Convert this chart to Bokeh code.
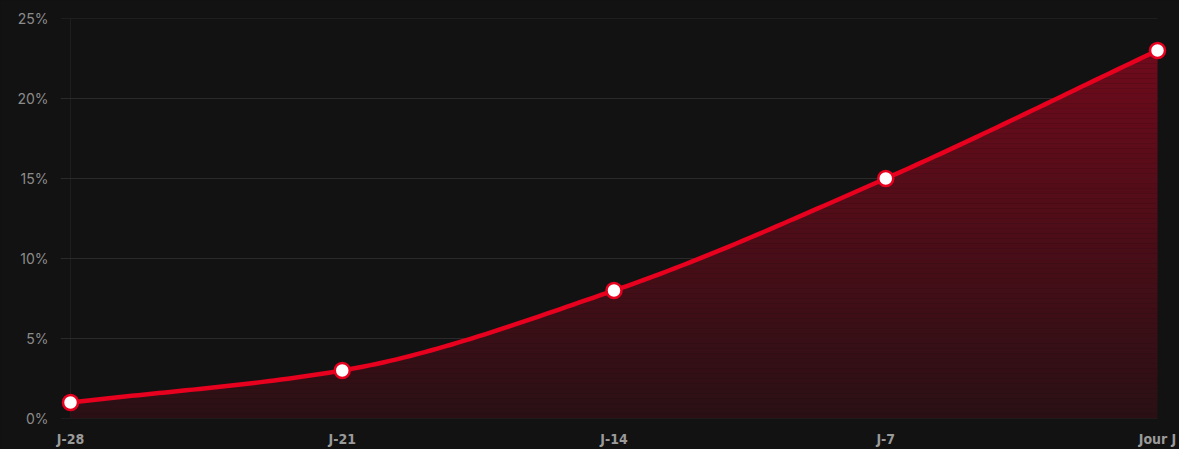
import numpy as np
from bokeh.plotting import figure
from bokeh.models import Range1d, FixedTicker, GlobalInlineStyleSheet, Span
from bokeh.embed import file_html
from bokeh.resources import INLINE

# ---- data ----
labels = ["J-28", "J-21", "J-14", "J-7", "Jour J"]
values = [1, 3, 8, 15, 23]
y_ticks = [0, 5, 10, 15, 20, 25]
y_tick_labels = ["0%", "5%", "10%", "15%", "20%", "25%"]

BG = "#121212"
RED = "#e8001f"
GRID = "#2a2a2a"


def monotone_curve(xs, ys, n=40):
    """Monotone cubic (Fritsch-Carlson) path through the data points, for drawing."""
    xs = np.asarray(xs, float)
    ys = np.asarray(ys, float)
    h = np.diff(xs)
    d = np.diff(ys) / h
    m = np.zeros_like(ys)
    m[0], m[-1] = d[0], d[-1]
    for i in range(1, len(ys) - 1):
        if d[i - 1] * d[i] <= 0:
            m[i] = 0
        else:
            m[i] = 2 / (1 / d[i - 1] + 1 / d[i])
    px, py = [], []
    for i in range(len(xs) - 1):
        t = np.linspace(0, 1, n, endpoint=(i == len(xs) - 2))
        h00 = 2 * t**3 - 3 * t**2 + 1
        h10 = t**3 - 2 * t**2 + t
        h01 = -2 * t**3 + 3 * t**2
        h11 = t**3 - t**2
        px.extend(xs[i] + t * h[i])
        py.extend(h00 * ys[i] + h10 * h[i] * m[i] + h01 * ys[i + 1] + h11 * h[i] * m[i + 1])
    return np.array(px), np.array(py)


xs = list(range(len(labels)))
cx, cy = monotone_curve(xs, values)

# frame spans 60..1167 px; data 0..4 spans 70..1157 px
pad = 10 / (1087 / 4)
p = figure(width=1179, height=449, output_backend="svg", toolbar_location=None,
           x_range=Range1d(-pad, len(labels) - 1 + pad), y_range=Range1d(0, 25),
           min_border_left=60, min_border_right=12, min_border_top=18, min_border_bottom=31)
p.background_fill_color = BG
p.border_fill_color = BG
p.outline_line_color = None
p.stylesheets = [GlobalInlineStyleSheet(css="html,body{margin:0;padding:0;background:#121212;overflow:hidden}")]

# horizontal grid lines (from left tick mark to the last category)
p.segment(x0=[-pad] * len(y_ticks), x1=[len(labels) - 1] * len(y_ticks), y0=y_ticks, y1=y_ticks,
          line_color=GRID, line_width=1)
p.add_layout(Span(location=0, dimension="height", line_color="#1e1e1e", line_width=1,
                  level="underlay"))

# gradient fill under the curve, built from horizontal bands
def blend(a):
    r = int(round(a * 235 + (1 - a) * 18))
    g = int(round((1 - a) * 18))
    b = int(round(a * 40 + (1 - a) * 18))
    return "#%02x%02x%02x" % (r, g, b)

nb = 80
edges = np.linspace(0, 25, nb + 1)
for k in range(nb):
    lo, hi = edges[k], edges[k + 1]
    if lo >= cy.max():
        break
    mid = (lo + hi) / 2
    a = 0.11 + 0.0138 * mid
    y1 = np.minimum(cy, lo)
    y2 = np.minimum(cy, hi + 0.02)
    p.varea(x=cx, y1=y1, y2=y2, fill_color=blend(a), fill_alpha=1.0)

p.line(cx, cy, line_color=RED, line_width=4.5, line_cap="round", line_join="round")
p.scatter(xs, values, size=15, fill_color="white", line_color=RED, line_width=2.5)

# axes
p.xgrid.grid_line_color = None
p.ygrid.grid_line_color = None
p.yaxis.ticker = FixedTicker(ticks=y_ticks)
p.yaxis.major_label_overrides = {t: l for t, l in zip(y_ticks, y_tick_labels)}
p.yaxis.major_tick_line_color = None
p.yaxis.minor_tick_line_color = None
p.yaxis.axis_line_color = None
p.yaxis.major_label_text_color = "#8c8c8c"
p.yaxis.major_label_text_font = "Inter"
p.yaxis.major_label_text_font_size = "14px"
p.yaxis.major_label_standoff = 6

p.xaxis.ticker = FixedTicker(ticks=xs)
p.xaxis.major_label_overrides = {i: l for i, l in zip(xs, labels)}
p.xaxis.major_tick_line_color = None
p.xaxis.minor_tick_line_color = None
p.xaxis.major_tick_out = 0
p.xaxis.major_tick_in = 0
p.xaxis.axis_line_color = None
p.xaxis.major_label_text_color = "#9a9a9a"
p.xaxis.major_label_text_font = "'Liberation Sans Narrow', 'DejaVu Sans Condensed', sans-serif"
p.xaxis.major_label_text_font_style = "bold"
p.xaxis.major_label_text_font_size = "14px"
p.xaxis.major_label_standoff = 12

open("out.html", "w").write(file_html(p, INLINE))
